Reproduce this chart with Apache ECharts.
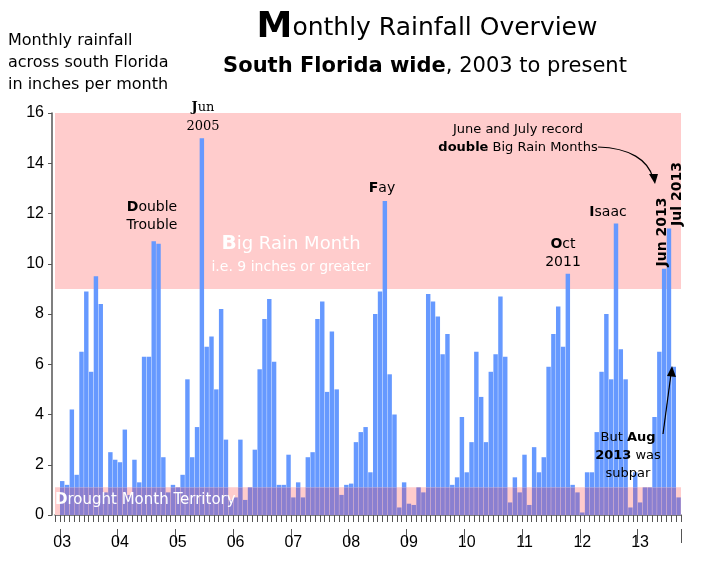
<!DOCTYPE html><html><head><meta charset="utf-8">
<script src="https://cdn.jsdelivr.net/npm/echarts@6/dist/echarts.min.js"></script>
<style>html,body{margin:0;background:#fff}#c{width:701px;height:578px}</style></head><body><div id="c"></div>
<script>
const years=['03','04','05','06','07','08','09','10','11','12','13'];
const rain2003=[1.35,1.2,4.2,1.6,6.5,8.9,5.7,9.5,8.4,0.9,2.5,2.2];
const rain2004=[2.1,3.4,0.8,2.2,1.3,6.3,6.3,10.9,10.8,2.3,0.9,1.2];
const rain2005=[1.1,1.6,5.4,2.3,3.5,15.0,6.7,7.1,5.0,8.2,3.0,0.6];
const rain2006=[0.7,3.0,0.6,1.1,2.6,5.8,7.8,8.6,6.1,1.2,1.2,2.4];
const rain2007=[0.7,1.3,0.7,2.3,2.5,7.8,8.5,4.9,7.3,5.0,0.8,1.2];
const rain2008=[1.25,2.9,3.3,3.5,1.7,8.0,8.9,12.5,5.6,4.0,0.3,1.3];
const rain2009=[0.45,0.4,1.1,0.9,8.8,8.5,7.9,6.4,7.2,1.2,1.5,3.9];
const rain2010=[1.7,2.9,6.5,4.7,2.9,5.7,6.4,8.7,6.3,0.5,1.5,0.9];
const rain2011=[2.4,0.4,2.7,1.7,2.3,5.9,7.2,8.3,6.7,9.6,1.2,0.9];
const rain2012=[0.1,1.7,1.7,3.3,5.7,8.0,5.4,11.6,6.6,5.4,0.3,1.7];
const rain2013=[0.5,1.1,1.1,3.9,6.5,9.8,11.4,5.9,0.7];
const droughtMax=1.1, bigRainMin=9, yTicks=[0,16,2];
const all=[rain2003,rain2004,rain2005,rain2006,rain2007,rain2008,rain2009,rain2010,rain2011,rain2012,rain2013];
const cats=[''], vals=[null];
all.forEach((a,i)=>a.forEach((v,m)=>{cats.push(years[i]+'-'+(m+1));vals.push(v);}));
const low=vals.map(v=>v==null?null:Math.min(v,droughtMax));
const high=vals.map(v=>v==null?null:Math.max(v-droughtMax,0));
const yearIdx=i=>i>0&&(i-1)%12===0;
const chart=echarts.init(document.getElementById('c'));
chart.setOption({
 animation:false,
 grid:{left:55,right:20,top:113,bottom:63},
 xAxis:[
  {type:'category',data:cats,position:'bottom',offset:14,
   axisLine:{lineStyle:{color:'#555',width:1.5}},
   axisTick:{show:true,interval:0,length:7,lineStyle:{color:'#555'}},
   axisLabel:{show:true,interval:0,formatter:()=>'',fontSize:1}},
  {type:'category',data:cats,position:'bottom',offset:14,
   axisLine:{show:false},
   axisTick:{show:true,interval:(i)=>yearIdx(i),length:14,lineStyle:{color:'#555'}},
   axisLabel:{interval:(i)=>yearIdx(i),formatter:v=>v.split('-')[0],color:'#000',fontFamily:'Liberation Sans',fontSize:16,margin:6}}],
 yAxis:{type:'value',min:yTicks[0],max:yTicks[1],interval:yTicks[2],offset:3,
  axisLine:{show:true,lineStyle:{color:'#555',width:1.5}},axisTick:{show:true,length:4,lineStyle:{color:'#555'}},
  splitLine:{show:false},axisLabel:{color:'#000',fontFamily:'Liberation Sans',fontSize:16,margin:8}},
 series:[
  {type:'bar',stack:'r',data:low,itemStyle:{color:'#8a7fd0'},barCategoryGap:'8%',z:3,
   markArea:{silent:true,itemStyle:{color:'#ffcccc'},data:[[{yAxis:0},{yAxis:droughtMax}],[{yAxis:bigRainMin},{yAxis:yTicks[1]}]]}},
  {type:'bar',stack:'r',data:high,itemStyle:{color:'#6699ff'},barCategoryGap:'8%',z:3}
 ],
 graphic:{elements:[
  {type:'text',z:100,left:8,top:30,style:{text:'Monthly rainfall\nacross south Florida\nin inches per month',font:'16px "DejaVu Sans"',fill:'#000',lineHeight:22}},
  {type:'text',z:100,x:427,y:28,style:{text:'{b|M}{r|onthly Rainfall Overview}',textAlign:'center',textVerticalAlign:'middle',rich:{b:{font:'bold 36px "DejaVu Sans"',fill:'#000'},r:{font:'25px "DejaVu Sans"',fill:'#000'}}}},
  {type:'text',z:100,x:425,y:67,style:{text:'{b|South Florida wide}{r|, 2003 to present}',textAlign:'center',textVerticalAlign:'middle',rich:{b:{font:'bold 21px "DejaVu Sans"',fill:'#000'},r:{font:'21px "DejaVu Sans"',fill:'#000'}}}},
  {type:'text',z:100,x:203,y:117,style:{text:'{b|J}un\n2005',textAlign:'center',textVerticalAlign:'middle',font:'13px "DejaVu Serif"',lineHeight:19,fill:'#000',rich:{b:{font:'bold 13px "DejaVu Serif"',fill:'#000'}}}},
  {type:'text',z:100,x:152,y:216,style:{text:'{b|D}ouble\nTrouble',textAlign:'center',textVerticalAlign:'middle',font:'14px "DejaVu Sans"',lineHeight:18,fill:'#000',rich:{b:{font:'bold 14px "DejaVu Sans"',fill:'#000'}}}},
  {type:'text',z:100,x:382,y:188,style:{text:'{b|F}ay',textAlign:'center',textVerticalAlign:'middle',font:'14px "DejaVu Sans"',fill:'#000',rich:{b:{font:'bold 14px "DejaVu Sans"',fill:'#000'}}}},
  {type:'text',z:100,x:563,y:253,style:{text:'{b|O}ct\n2011',textAlign:'center',textVerticalAlign:'middle',font:'14px "DejaVu Sans"',lineHeight:18,fill:'#000',rich:{b:{font:'bold 14px "DejaVu Sans"',fill:'#000'}}}},
  {type:'text',z:100,x:608,y:212,style:{text:'{b|I}saac',textAlign:'center',textVerticalAlign:'middle',font:'14px "DejaVu Sans"',fill:'#000',rich:{b:{font:'bold 14px "DejaVu Sans"',fill:'#000'}}}},
  {type:'text',z:100,x:291,y:255,style:{text:'{b|B}{r|ig Rain Month}\n{s|i.e. 9 inches or greater}',textAlign:'center',textVerticalAlign:'middle',rich:{b:{font:'bold 20px "DejaVu Sans"',fill:'#fff',lineHeight:25},r:{font:'18px "DejaVu Sans"',fill:'#fff',lineHeight:25},s:{font:'14px "DejaVu Sans"',fill:'#fff',lineHeight:22}}}},
  {type:'text',z:100,x:518,y:139,style:{text:'June and July record\n{b|double} Big Rain Months',textAlign:'center',textVerticalAlign:'middle',font:'13px "DejaVu Sans"',lineHeight:18,fill:'#000',rich:{b:{font:'bold 13px "DejaVu Sans"',fill:'#000'}}}},
  {type:'bezierCurve',z:100,shape:{x1:598,y1:147,cpx1:630,cpy1:148,cpx2:648,cpy2:160,x2:653,y2:178},style:{stroke:'#000',lineWidth:1.2,fill:null}},
  {type:'polygon',z:100,shape:{points:[[649,174],[658,174],[655,184]]},style:{fill:'#000'}},
  {type:'text',z:100,x:662,y:232,rotation:Math.PI/2,style:{text:'Jun 2013',textAlign:'center',textVerticalAlign:'middle',font:'bold 14px "DejaVu Sans"',fill:'#000'}},
  {type:'text',z:100,x:677,y:194,rotation:Math.PI/2,style:{text:'Jul 2013',textAlign:'center',textVerticalAlign:'middle',font:'bold 14px "DejaVu Sans"',fill:'#000'}},
  {type:'text',z:100,x:628,y:456,style:{text:'But {b|Aug}\n{b|2013} was\nsubpar',textAlign:'center',textVerticalAlign:'middle',font:'13px "DejaVu Sans"',lineHeight:18,fill:'#000',rich:{b:{font:'bold 13px "DejaVu Sans"',fill:'#000'}}}},
  {type:'line',z:100,shape:{x1:663,y1:434,x2:671,y2:374},style:{stroke:'#000',lineWidth:1.2}},
  {type:'polygon',z:100,shape:{points:[[667,376],[676,377],[672,366]]},style:{fill:'#000'}},
  {type:'text',z:100,left:55,top:493,style:{text:'{b|D}rought Month Territory',font:'15px "DejaVu Sans"',fill:'#fff',rich:{b:{font:'bold 15px "DejaVu Sans"',fill:'#fff'}}}}
 ]}
});
</script></body></html>
